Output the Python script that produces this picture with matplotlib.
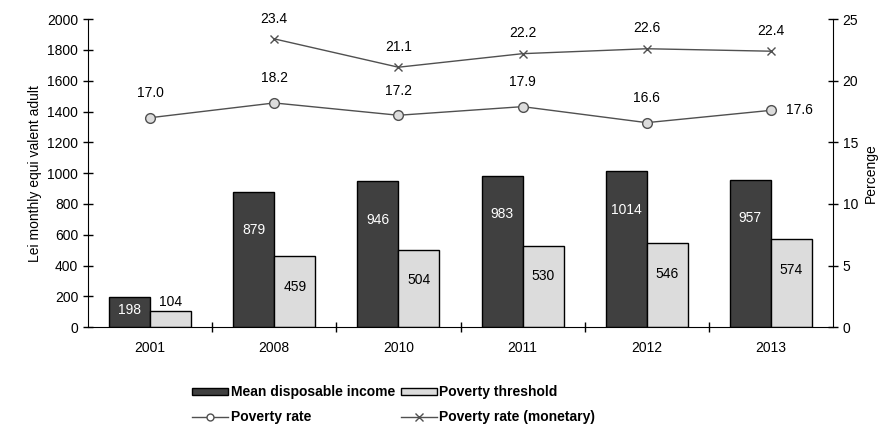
import matplotlib.pyplot as plt
import numpy as np
from matplotlib.lines import Line2D
from matplotlib.patches import Patch

plt.rcParams['font.family'] = ['Liberation Sans', 'DejaVu Sans']

years = ['2001', '2008', '2010', '2011', '2012', '2013']
mean_income = [198, 879, 946, 983, 1014, 957]
poverty_threshold = [104, 459, 504, 530, 546, 574]
poverty_rate = [17.0, 18.2, 17.2, 17.9, 16.6, 17.6]
years_monetary = ['2008', '2010', '2011', '2012', '2013']
poverty_rate_monetary = [23.4, 21.1, 22.2, 22.6, 22.4]

dark = '#404040'
light = '#dcdcdc'
linec = '#505050'

fig = plt.figure(figsize=(8.89, 4.26), dpi=100)
ax = fig.add_axes([0.099, 0.232, 0.838, 0.723])
ax2 = ax.twinx()

x = np.arange(len(years))
w = 0.33
ax.bar(x - w / 2, mean_income, w, color=dark, edgecolor='black', linewidth=1, zorder=2)
ax.bar(x + w / 2, poverty_threshold, w, color=light, edgecolor='black', linewidth=1, zorder=2)

# labels on bars
for xi, v in zip(x, mean_income):
    yv = v * 0.55 if v < 400 else v - 250
    ax.text(xi - w / 2, yv, str(v), color='white', ha='center', va='center', fontsize=10)
for xi, v in zip(x, poverty_threshold):
    yv = v + 60 if v < 200 else v - 200
    ax.text(xi + w / 2, yv, str(v), color='black', ha='center', va='center', fontsize=10)

ax.set_xlim(-0.5, len(years) - 0.5)
ax.set_ylim(0, 2000)
ax.set_yticks(np.arange(0, 2001, 200))
ax.set_xticks(x)
ax.set_xticklabels(years)
ax.set_xticks(np.arange(0.5, len(years) - 0.5, 1), minor=True)
ax.tick_params(axis='x', which='major', length=0, pad=10, labelsize=10)
ax.tick_params(axis='x', which='minor', length=7, direction='inout', width=1)
ax.tick_params(axis='y', length=7, direction='inout', width=1, labelsize=10)
ax.set_ylabel('Lei monthly equi valent adult', fontsize=10)
ax.spines['top'].set_visible(False)
ax.spines['right'].set_visible(False)

xm = [years.index(y) for y in years_monetary]
ax2.plot(x, poverty_rate, color=linec, lw=1, marker='o', markersize=7,
         markerfacecolor=light, markeredgecolor=linec, zorder=3)
ax2.plot(xm, poverty_rate_monetary, color=linec, lw=1, marker='x', markersize=6,
         markeredgecolor=linec, zorder=3)
for xi, v in zip(x, poverty_rate):
    if xi == len(years) - 1:
        ax2.text(xi + 0.12, v, f'{v:.1f}', ha='left', va='center', fontsize=10)
    else:
        ax2.text(xi, v + 2.0, f'{v:.1f}', ha='center', va='center', fontsize=10)
for xi, v in zip(xm, poverty_rate_monetary):
    ax2.text(xi, v + 1.65, f'{v:.1f}', ha='center', va='center', fontsize=10)

ax2.set_ylim(0, 25)
ax2.set_yticks(np.arange(0, 26, 5))
ax2.tick_params(axis='y', length=7, direction='inout', width=1, labelsize=10)
ax2.set_ylabel('Percenge', fontsize=10)
for s in ['top', 'left', 'bottom']:
    ax2.spines[s].set_visible(False)

handles = [
    Patch(facecolor=dark, edgecolor='black', label='Mean disposable income'),
    Line2D([], [], color=linec, lw=1, marker='o', markersize=5, markerfacecolor='white',
           markeredgecolor=linec, label='Poverty rate'),
    Patch(facecolor=light, edgecolor='black', label='Poverty threshold'),
    Line2D([], [], color=linec, lw=1, marker='x', markersize=6, label='Poverty rate (monetary)'),
]
fig.legend(handles=handles, ncol=2, loc='center', bbox_to_anchor=(0.443, 0.05),
           frameon=False, handlelength=2.6, handleheight=0.4,
           handletextpad=0.15, columnspacing=0.45, labelspacing=0.75,
           prop={'weight': 'bold', 'size': 10})

fig.savefig('out.png', dpi=100)
